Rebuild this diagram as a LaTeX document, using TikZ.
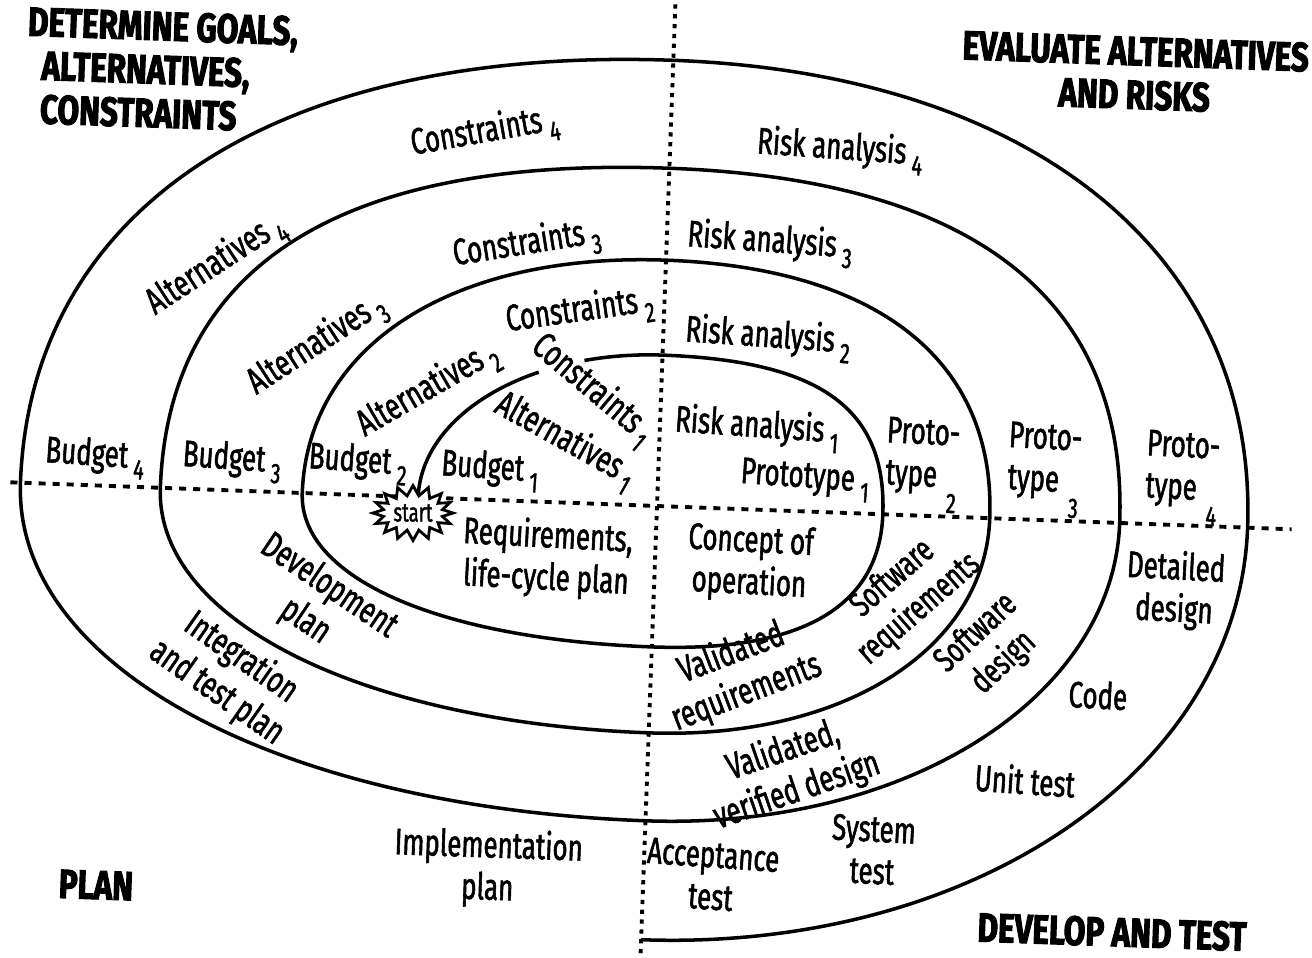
\documentclass[tikz,border=0pt]{standalone}
\usepackage{fontspec}
\setmainfont{Fira Sans}[FakeStretch=0.7, FakeBold=1.5]
\newfontfamily\headfont{Fira Sans}[FakeStretch=0.77, FakeBold=2.5]
\usetikzlibrary{shapes.symbols}
\newcommand\subn[1]{\,\raisebox{-0.55ex}{\footnotesize #1}}
\newcommand\subl[1]{\;\raisebox{-1.3ex}{\footnotesize #1}}

\begin{document}
\begin{tikzpicture}[x=0.01cm, y=-0.01cm,
  lbl/.style={align=center, inner sep=0pt, font=\fontsize{10.5}{12}\selectfont},
  small/.style={font=\fontsize{10}{11.5}\selectfont},
  head/.style={align=center, inner sep=0pt, font=\headfont\bfseries\fontsize{11.6}{12.4}\selectfont},
  spiral/.style={line width=1pt},
  hdots/.style={line width=1.1pt, dash pattern=on 2pt off 2pt},
  vdots/.style={line width=1.1pt, dash pattern=on 1.2pt off 1.6pt}]
\useasboundingbox (0,0) rectangle (1312,957);

% quadrant lines and spiral, in the tilted frame
\begin{scope}[shift={(657,506)}, rotate=-2.1, y=0.01cm]
\draw[hdots] (-647,0) -- (635,0);
\draw[vdots] (0,502) -- (0,-460);
\draw[spiral] (-239,0) arc[start angle=180, end angle=121, x radius=239, y radius=151];
\draw[spiral] (109:239 and 151) arc[start angle=109, end angle=90, x radius=239, y radius=151]
  .. controls (158,151) and (226,106) .. (226,0)
  .. controls (226,-93) and (149,-141) .. (0,-141)
  .. controls (-213,-141) and (-355,-85) .. (-355,0)
  .. controls (-355,148) and (-213,246) .. (0,246)
  .. controls (213,246) and (333,157) .. (333,0)
  .. controls (333,-132) and (193,-227) .. (0,-227)
  .. controls (-288,-227) and (-497,-132) .. (-497,0)
  .. controls (-497,223) and (-328,338) .. (0,338)
  .. controls (306,338) and (463,223) .. (463,0)
  .. controls (463,-176) and (259,-315) .. (0,-315)
  .. controls (-369,-315) and (-637,-183) .. (-637,0)
  .. controls (-637,277) and (-395,446) .. (0,446)
  .. controls (361,446) and (591,272) .. (591,0)
  .. controls (591,-243) and (331,-434) .. (0,-434);
\end{scope}

\node[starburst, draw, fill=white, line width=0.8pt, starburst points=16,
  starburst point height=0.1cm, random starburst=0, inner xsep=0.5pt, inner ysep=1pt,
  font=\fontsize{7.5}{8}\selectfont] (start) at (413,513) {start};

% quadrant headings
\node[head, align=left, anchor=north west, rotate=-2] (goals) at (28,6)
  {DETERMINE GOALS,\\\hspace*{0.15cm}ALTERNATIVES,\\\hspace*{0.15cm}CONSTRAINTS};
\node[head, rotate=-2] (evaluate) at (1135,73) {EVALUATE ALTERNATIVES\\AND RISKS};
\node[head, rotate=-2] (plan) at (96,885) {PLAN};
\node[head, rotate=-2] (develop) at (1112,932) {DEVELOP AND TEST};

% upper left
\node[lbl, rotate=10] (constr4) at (485,133) {Constraints\subn{4}};
\node[lbl, rotate=9] (constr3) at (527,245) {Constraints\subn{3}};
\node[lbl, rotate=8] (constr2) at (580,312) {Constraints\subn{2}};
\node[lbl, rotate=-40] (constr1) at (592,390) {Constraints\subn{1}};
\node[lbl, rotate=33] (altern4) at (216,265) {Alternatives\subn{4}};
\node[lbl, rotate=33] (altern3) at (317,345) {Alternatives\subn{3}};
\node[lbl, rotate=30] (altern2) at (428,390) {Alternatives\subn{2}};
\node[lbl, rotate=-29] (altern1) at (565,441) {Alternatives\subn{1}};
\node[lbl, rotate=-4] (budget4) at (95,457) {Budget\subn{4}};
\node[lbl, rotate=-4] (budget3) at (232,461) {Budget\subn{3}};
\node[lbl, rotate=-4] (budget2) at (358,463) {Budget\subn{2}};
\node[lbl, rotate=-4] (budget1) at (490,470) {Budget\subn{1}};

% upper right
\node[lbl, rotate=-4] (risk4) at (840,150) {Risk analysis\subn{4}};
\node[lbl, rotate=-4] (risk3) at (770,243) {Risk analysis\subn{3}};
\node[lbl, rotate=-4] (risk2) at (768,338) {Risk analysis\subn{2}};
\node[lbl, rotate=-4] (risk1) at (757,428) {Risk analysis\subn{1}};
\node[lbl, rotate=-4] (proto1) at (805,480) {Prototype\subn{1}};
\node[lbl, rotate=-3] (proto2) at (922,465) {Proto-\\type\subl{2}};
\node[lbl, rotate=-3] (proto3) at (1044,470) {Proto-\\type\subl{3}};
\node[lbl, rotate=-3] (proto4) at (1182,478) {Proto-\\type\subl{4}};

% lower left
\node[lbl, rotate=-3] (reqs) at (547,558) {Requirements,\\life-cycle plan};
\node[lbl, rotate=-34] (devplan) at (317,604) {Development\\plan};
\node[lbl, rotate=-35] (integ) at (229,675) {Integration\\and test plan};
\node[lbl, rotate=-2] (implem) at (488,868) {Implementation\\plan};

% lower right
\node[lbl, rotate=-3] (concept) at (750,563) {Concept of\\operation};
\node[lbl, rotate=21] (valreq) at (739,673) {Validated\\requirements};
\node[lbl, rotate=19] (valdes) at (790,771) {Validated,\\verified design};
\node[lbl, small, rotate=41] (swreq) at (906,594) {Software\\requirements};
\node[lbl, small, rotate=43] (swdes) at (990,648) {Software\\design};
\node[lbl, rotate=-3] (detail) at (1175,590) {Detailed\\design};
\node[lbl, rotate=-3] (code) at (1098,695) {Code};
\node[lbl, rotate=-4] (unit) at (1025,780) {Unit test};
\node[lbl, rotate=-3] (system) at (873,850) {System\\test};
\node[lbl, rotate=-4] (accept) at (712,876) {Acceptance\\test};
\end{tikzpicture}
\end{document}
